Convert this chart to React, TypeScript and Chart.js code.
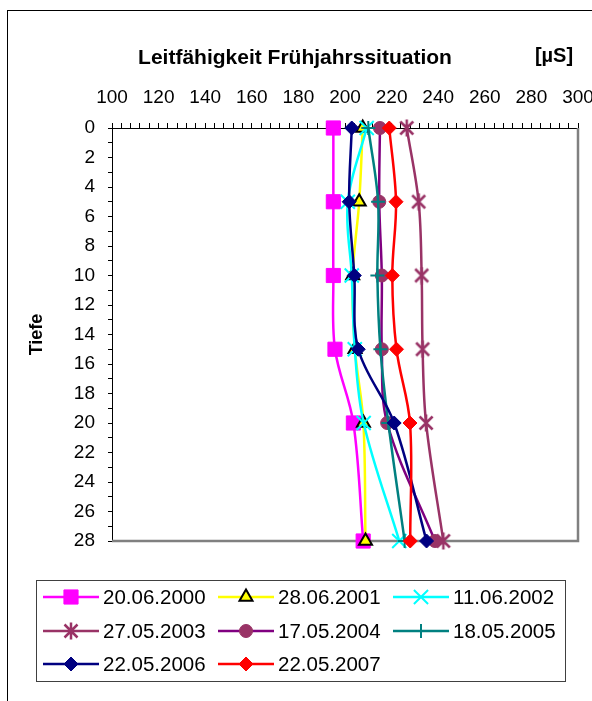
import React, { useEffect, useRef } from 'react';
import { Chart, registerables } from 'chart.js';
import { drawPoint } from 'chart.js/helpers';

Chart.register(...registerables);

// ---- data ----
const depths = [0, 5, 10, 15, 20, 28];
const seriesLabels = [
  '20.06.2000', '28.06.2001', '11.06.2002', '27.05.2003',
  '17.05.2004', '18.05.2005', '22.05.2006', '22.05.2007',
];
const s2000 = [195, 195, 195, 195.7, 203.6, 207.8];
const s2001 = [207.6, 206.1, 203.3, 204.3, 207.9, 208.8];
const s2002 = [209.3, 201.2, 202.9, 204.2, 208, 223.3];
const s2003 = [226.5, 231.6, 232.9, 233.3, 234.8, 242.2];
const s2004 = [215, 214.7, 215.8, 215.8, 218.1, 238.6];
const s2005 = [210, 214.2, 213.9, 215.2, 218.6, 225.6];
const s2006 = [202.9, 201.8, 204, 205.7, 221.1, 235];
const s2007 = [219, 221.9, 220.3, 222.1, 227.9, 228];
const seriesValues = [s2000, s2001, s2002, s2003, s2004, s2005, s2006, s2007];

const xMin = 100;
const xMax = 300;
const xLabelStep = 20;
const xMinorStep = 4;
const yMin = 0;
const yMax = 28;
const yLabelStep = 2;
const yMinorStep = 1;

const chartTitle = 'Leitfähigkeit Frühjahrssituation';
const unitLabel = '[µS]';
const yAxisTitle = 'Tiefe';

const FONT = "'Liberation Sans', Arial, sans-serif";

export default function App() {
  const ref = useRef<HTMLCanvasElement>(null);

  useEffect(() => {
    const canvas = ref.current;
    if (!canvas) return;

    // asterisk marker (X with vertical bar)
    const star = document.createElement('canvas');
    star.width = 18;
    star.height = 18;
    const sc = star.getContext('2d')!;
    sc.strokeStyle = '#993366';
    sc.lineWidth = 2.5;
    sc.lineCap = 'butt';
    sc.beginPath();
    sc.moveTo(2.5, 2.5); sc.lineTo(15.5, 15.5);
    sc.moveTo(15.5, 2.5); sc.lineTo(2.5, 15.5);
    sc.moveTo(9, 0.5); sc.lineTo(9, 17.5);
    sc.stroke();

    const styles: any[] = [
      { line: '#FF00FF', style: 'rect', radius: 10, bg: '#FF00FF', border: '#FF00FF', bw: 1 },
      { line: '#FFFF00', style: 'triangle', radius: 7.5, bg: '#FFFF00', border: '#000000', bw: 2 },
      { line: '#00FFFF', style: 'crossRot', radius: 10, bg: '#00FFFF', border: '#00FFFF', bw: 2 },
      { line: '#993366', style: star, radius: 9, bg: '#993366', border: '#993366', bw: 2 },
      { line: '#800080', style: 'circle', radius: 6.5, bg: '#993366', border: '#993366', bw: 1 },
      { line: '#008080', style: 'cross', radius: 7, bg: '#008080', border: '#008080', bw: 2 },
      { line: '#000080', style: 'rectRot', radius: 7, bg: '#000080', border: '#000080', bw: 1 },
      { line: '#FF0000', style: 'rectRot', radius: 7, bg: '#FF0000', border: '#FF0000', bw: 1 },
    ];

    const datasets = seriesLabels.map((label, i) => {
      const st = styles[i];
      return {
        label,
        data: depths.map((d, k) => ({ x: seriesValues[i][k], y: d })),
        borderColor: st.line,
        backgroundColor: st.line,
        borderWidth: 2.5,
        pointStyle: st.style,
        pointRadius: st.radius,
        pointHoverRadius: st.radius,
        pointBackgroundColor: st.bg,
        pointBorderColor: st.border,
        pointBorderWidth: st.bw,
        tension: 0.35,
        fill: false,
        clip: false,
        order: seriesLabels.length - i,
      };
    });

    const decor = {
      id: 'decor',
      beforeDraw(chart: any) {
        const { ctx, width, height } = chart;
        ctx.save();
        ctx.fillStyle = '#ffffff';
        ctx.fillRect(0, 0, width, height);
        ctx.strokeStyle = '#000000';
        ctx.lineWidth = 1;
        ctx.strokeRect(7.5, 10.5, width + 40, height + 40);
        ctx.restore();
      },
      beforeDatasetsDraw(chart: any) {
        const { ctx, chartArea } = chart;
        ctx.save();
        ctx.strokeStyle = '#808080';
        ctx.lineWidth = 2.5;
        ctx.beginPath();
        ctx.moveTo(chartArea.right, chartArea.top);
        ctx.lineTo(chartArea.right, chartArea.bottom);
        ctx.lineTo(chartArea.left, chartArea.bottom);
        ctx.stroke();
        ctx.restore();
      },
      afterDraw(chart: any) {
        const { ctx } = chart;
        ctx.save();
        ctx.fillStyle = '#000000';
        ctx.font = `bold 21px ${FONT}`;
        ctx.textAlign = 'center';
        ctx.textBaseline = 'middle';
        ctx.fillText(chartTitle, 295, 58);
        ctx.font = `bold 20px ${FONT}`;
        ctx.fillText(unitLabel, 554, 56);

        // legend
        const boxL = 36, boxT = 580, boxR = 565, boxB = 681;
        ctx.strokeStyle = '#404040';
        ctx.lineWidth = 1;
        ctx.strokeRect(boxL + 0.5, boxT + 0.5, boxR - boxL, boxB - boxT);
        const cols = [43, 218, 393];
        const rows = [597, 631, 664];
        chart.data.datasets.forEach((ds: any, i: number) => {
          const x0 = cols[i % 3];
          const y = rows[Math.floor(i / 3)];
          ctx.strokeStyle = ds.borderColor;
          ctx.lineWidth = 2.5;
          ctx.beginPath();
          ctx.moveTo(x0, y);
          ctx.lineTo(x0 + 56, y);
          ctx.stroke();
          ctx.fillStyle = ds.pointBackgroundColor;
          ctx.strokeStyle = ds.pointBorderColor;
          ctx.lineWidth = ds.pointBorderWidth;
          drawPoint(ctx, {
            pointStyle: ds.pointStyle,
            radius: ds.pointRadius,
            borderWidth: ds.pointBorderWidth,
            rotation: 0,
          } as any, x0 + 28, y);
          ctx.fillStyle = '#000000';
          ctx.font = `20.5px ${FONT}`;
          ctx.textAlign = 'left';
          ctx.textBaseline = 'middle';
          ctx.fillText(ds.label, x0 + 60, y + 1);
        });
        ctx.restore();
      },
    };

    const chart = new Chart(canvas, {
      type: 'line',
      data: { datasets: datasets as any },
      options: {
        animation: false,
        responsive: false,
        devicePixelRatio: 1,
        events: [],
        layout: { padding: { left: 20, top: 60, right: 14, bottom: 160 } },
        plugins: {
          legend: { display: false },
          tooltip: { enabled: false },
          title: { display: false },
        },
        scales: {
          x: {
            type: 'linear',
            position: 'top',
            min: xMin,
            max: xMax,
            afterFit(scale: any) {
              scale.height = 68;
              scale.paddingLeft = 0;
              scale.paddingRight = 0;
            },
            ticks: {
              stepSize: xMinorStep,
              autoSkip: false,
              maxRotation: 0,
              minRotation: 0,
              padding: 14,
              color: '#000',
              font: { family: FONT, size: 19 },
              callback: (v: any) => (Number(v) % xLabelStep === 0 ? String(v) : ''),
            },
            grid: {
              drawOnChartArea: false,
              drawTicks: true,
              tickLength: 5,
              tickColor: '#000',
              tickWidth: 1,
            },
            border: { display: true, color: '#000', width: 1 },
          },
          y: {
            type: 'linear',
            reverse: true,
            min: yMin,
            max: yMax,
            afterFit(scale: any) {
              scale.width = 92;
            },
            ticks: {
              stepSize: yMinorStep,
              autoSkip: false,
              padding: 13,
              color: '#000',
              font: { family: FONT, size: 19 },
              callback: (v: any) => (Number(v) % yLabelStep === 0 ? String(v) : ''),
            },
            grid: {
              drawOnChartArea: false,
              drawTicks: true,
              tickLength: 4,
              tickColor: '#000',
              tickWidth: 1,
            },
            border: { display: true, color: '#000', width: 1 },
            title: {
              display: true,
              text: yAxisTitle,
              color: '#000',
              font: { family: FONT, size: 18, weight: 'bold' },
              padding: { top: 6, bottom: 0 },
            },
          },
        },
      },
      plugins: [decor],
    });

    return () => chart.destroy();
  }, []);

  return (
    <div style={{ position: 'absolute', left: 0, top: 0, width: 592, height: 701 }}>
      <canvas ref={ref} width={592} height={701} style={{ display: 'block' }} />
    </div>
  );
}
